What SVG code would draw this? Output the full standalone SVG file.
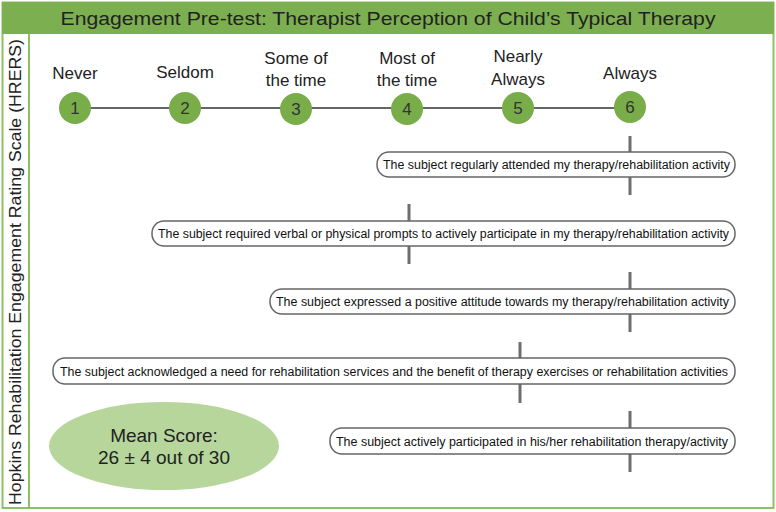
<svg xmlns="http://www.w3.org/2000/svg" width="776" height="512" viewBox="0 0 776 512">
<style>
.lbl{font-family:"Liberation Sans",Arial,sans-serif;font-size:17px;fill:#222;text-anchor:middle}
.num{font-family:"Liberation Sans",Arial,sans-serif;font-size:17px;fill:#333;text-anchor:middle}
.item{fill:#fff;stroke:#666;stroke-width:1.5}
.itxt{font-family:"Liberation Sans",Arial,sans-serif;font-size:12px;fill:#111}
.tick{stroke:#6e6e6e;stroke-width:3}
.dot{fill:#78ad4a}
</style>
<rect x="0" y="0" width="776" height="512" fill="#fff"/>
<rect x="2.5" y="2.5" width="771" height="505.5" fill="none" stroke="#8cc063" stroke-width="2"/>
<rect x="2" y="2" width="772" height="32" fill="#7caf50"/>
<line x1="29" y1="34" x2="29" y2="508" stroke="#8cc063" stroke-width="2"/>
<text x="388" y="24.5" text-anchor="middle" font-family="Liberation Sans,Arial,sans-serif" font-size="18" fill="#222" textLength="655" lengthAdjust="spacingAndGlyphs">Engagement Pre-test: Therapist Perception of Child’s Typical Therapy</text>
<text transform="translate(21,272) rotate(-90)" text-anchor="middle" font-family="Liberation Sans,Arial,sans-serif" font-size="17" fill="#222" textLength="466" lengthAdjust="spacingAndGlyphs">Hopkins Rehabilitation Engagement Rating Scale (HRERS)</text>
<g id="connectors">
<line x1="75" y1="108" x2="630" y2="108" stroke="#333" stroke-width="1.5"/>
<line class="tick" x1="630" y1="136" x2="630" y2="152"/><line class="tick" x1="630" y1="177" x2="630" y2="195"/>
<line class="tick" x1="409" y1="204" x2="409" y2="221"/><line class="tick" x1="409" y1="246" x2="409" y2="264"/>
<line class="tick" x1="630" y1="272" x2="630" y2="289"/><line class="tick" x1="630" y1="314" x2="630" y2="332"/>
<line class="tick" x1="520" y1="342" x2="520" y2="358"/><line class="tick" x1="520" y1="384" x2="520" y2="403"/>
<line class="tick" x1="630" y1="411" x2="630" y2="428"/><line class="tick" x1="630" y1="454" x2="630" y2="472"/>
</g>
<g id="s1"><circle class="dot" cx="75" cy="108" r="16"/><text class="num" x="75" y="113.5">1</text><text class="lbl" x="75" y="79">Never</text></g>
<g id="s2"><circle class="dot" cx="185" cy="108" r="16"/><text class="num" x="185" y="113.5">2</text><text class="lbl" x="185" y="78">Seldom</text></g>
<g id="s3"><circle class="dot" cx="296" cy="109" r="16"/><text class="num" x="296" y="114.5">3</text><text class="lbl" x="296" y="64">Some of</text><text class="lbl" x="296" y="86">the time</text></g>
<g id="s4"><circle class="dot" cx="407" cy="109" r="16"/><text class="num" x="407" y="114.5">4</text><text class="lbl" x="407" y="64">Most of</text><text class="lbl" x="407" y="86">the time</text></g>
<g id="s5"><circle class="dot" cx="518" cy="108" r="16"/><text class="num" x="518" y="113.5">5</text><text class="lbl" x="518" y="62">Nearly</text><text class="lbl" x="518" y="85">Always</text></g>
<g id="s6"><circle class="dot" cx="630" cy="107" r="16"/><text class="num" x="630" y="112.5">6</text><text class="lbl" x="630" y="79">Always</text></g>
<g id="i1"><rect class="item" x="377" y="152" width="358" height="25" rx="12"/><text class="itxt" x="383" y="169" textLength="347" lengthAdjust="spacingAndGlyphs">The subject regularly attended my therapy/rehabilitation activity</text></g>
<g id="i2"><rect class="item" x="152" y="221" width="583" height="25" rx="12"/><text class="itxt" x="158" y="238" textLength="571" lengthAdjust="spacingAndGlyphs">The subject required verbal or physical prompts to actively participate in my therapy/rehabilitation activity</text></g>
<g id="i3"><rect class="item" x="270" y="289" width="465" height="25" rx="12"/><text class="itxt" x="276" y="306" textLength="453" lengthAdjust="spacingAndGlyphs">The subject expressed a positive attitude towards my therapy/rehabilitation activity</text></g>
<g id="i4"><rect class="item" x="53" y="358" width="682" height="26" rx="12"/><text class="itxt" x="60" y="375.5" textLength="668" lengthAdjust="spacingAndGlyphs">The subject acknowledged a need for rehabilitation services and the benefit of therapy exercises or rehabilitation activities</text></g>
<g id="i5"><rect class="item" x="330" y="428" width="405" height="26" rx="12"/><text class="itxt" x="336" y="445.5" textLength="392" lengthAdjust="spacingAndGlyphs">The subject actively participated in his/her rehabilitation therapy/activity</text></g>
<g id="mean"><ellipse cx="164" cy="446" rx="115" ry="44" fill="#b6d69c"/>
<text x="164" y="442" text-anchor="middle" font-family="Liberation Sans,Arial,sans-serif" font-size="19" fill="#222">Mean Score:</text>
<text x="164" y="464" text-anchor="middle" font-family="Liberation Sans,Arial,sans-serif" font-size="19" fill="#222">26 ± 4 out of 30</text></g>
</svg>
